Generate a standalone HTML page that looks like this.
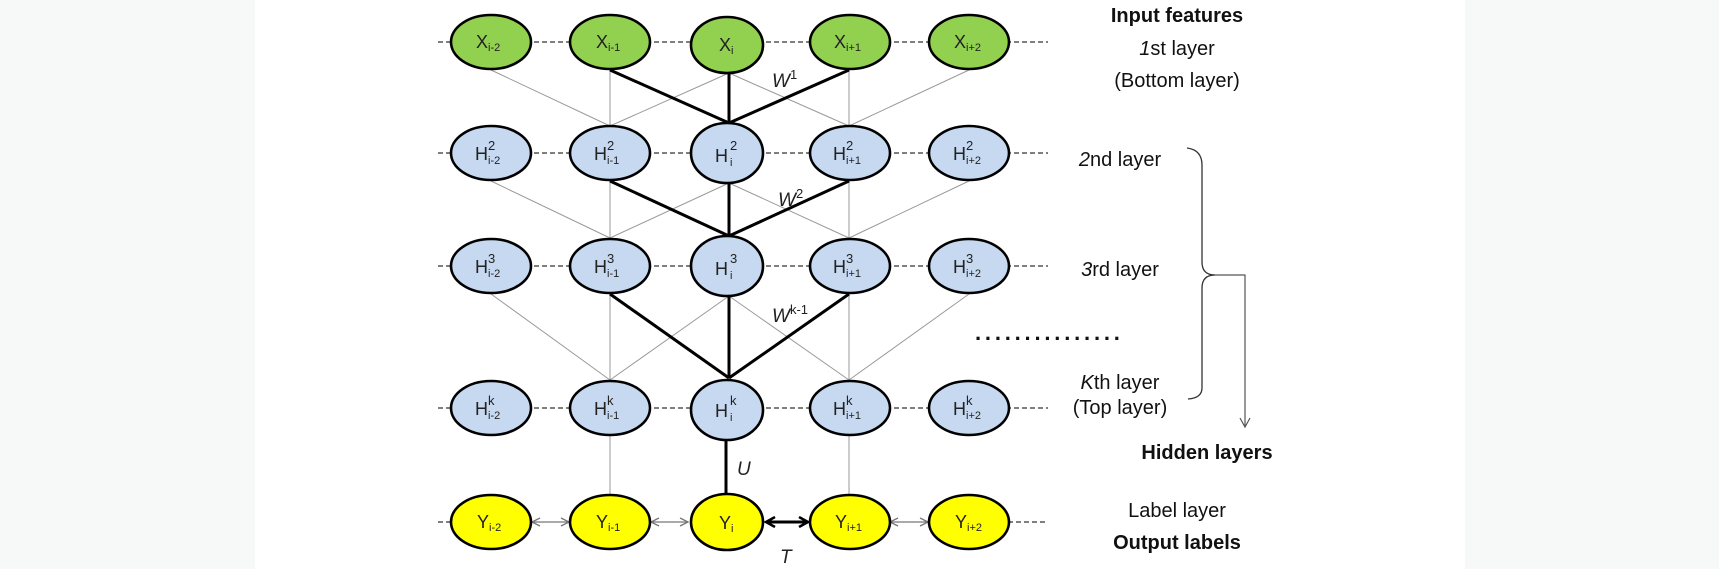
<!DOCTYPE html>
<html><head><meta charset="utf-8"><style>
html,body{margin:0;padding:0;background:#f7f9f9;}
svg{display:block;}
text{font-family:"Liberation Sans",sans-serif;}
</style></head><body>
<svg width="1719" height="569" viewBox="0 0 1719 569" xmlns="http://www.w3.org/2000/svg">
<defs>
<marker id="ag" markerWidth="10" markerHeight="10" refX="9" refY="5" orient="auto-start-reverse" markerUnits="userSpaceOnUse"><path d="M1,1 L9,5 L1,9" fill="none" stroke="#777" stroke-width="1.3"/></marker>
<marker id="ab" markerWidth="12" markerHeight="12" refX="10" refY="6" orient="auto-start-reverse" markerUnits="userSpaceOnUse"><path d="M1,1 L10,6 L1,11" fill="none" stroke="#000" stroke-width="2.5"/></marker>
<marker id="ad" markerWidth="12" markerHeight="12" refX="10" refY="6" orient="auto" markerUnits="userSpaceOnUse"><path d="M1,1 L10,6 L1,11" fill="none" stroke="#555" stroke-width="1.2"/></marker>
</defs>
<rect x="255" y="0" width="1210" height="569" fill="#fff"/>

<g stroke="#333" stroke-width="1.3" stroke-dasharray="5,3">
<line x1="438" y1="42" x2="1048" y2="42"/>
<line x1="438" y1="153" x2="1048" y2="153"/>
<line x1="438" y1="266" x2="1048" y2="266"/>
<line x1="438" y1="408" x2="1048" y2="408"/>
<line x1="438" y1="522" x2="452" y2="522"/>
<line x1="1008" y1="522" x2="1048" y2="522"/>
</g>

<g stroke="#999" stroke-width="1">
<line x1="491" y1="70" x2="610" y2="126"/>
<line x1="610" y1="70" x2="610" y2="126"/>
<line x1="729" y1="73" x2="610" y2="126"/>
<line x1="729" y1="73" x2="849" y2="126"/>
<line x1="849" y1="70" x2="849" y2="126"/>
<line x1="969" y1="70" x2="849" y2="126"/>
<line x1="491" y1="181" x2="610" y2="238"/>
<line x1="610" y1="181" x2="610" y2="238"/>
<line x1="729" y1="183" x2="610" y2="238"/>
<line x1="729" y1="183" x2="849" y2="238"/>
<line x1="849" y1="181" x2="849" y2="238"/>
<line x1="969" y1="181" x2="849" y2="238"/>
<line x1="491" y1="294" x2="610" y2="380"/>
<line x1="610" y1="294" x2="610" y2="380"/>
<line x1="729" y1="296" x2="610" y2="380"/>
<line x1="729" y1="296" x2="849" y2="380"/>
<line x1="849" y1="294" x2="849" y2="380"/>
<line x1="969" y1="294" x2="849" y2="380"/>
<line x1="610" y1="436" x2="610" y2="494"/>
<line x1="849" y1="436" x2="849" y2="494"/>
</g>

<g stroke="#000" stroke-width="3">
<line x1="610" y1="70" x2="729" y2="123"/>
<line x1="729" y1="73" x2="729" y2="123"/>
<line x1="849" y1="70" x2="729" y2="123"/>
<line x1="610" y1="181" x2="729" y2="236"/>
<line x1="729" y1="183" x2="729" y2="236"/>
<line x1="849" y1="181" x2="729" y2="236"/>
<line x1="610" y1="294" x2="729" y2="378"/>
<line x1="729" y1="296" x2="729" y2="378"/>
<line x1="849" y1="294" x2="729" y2="378"/>
<line x1="726" y1="438" x2="726" y2="494"/>
</g>

<g stroke="#777" stroke-width="1.3">
<line x1="532" y1="522" x2="569" y2="522" marker-start="url(#ag)" marker-end="url(#ag)"/>
<line x1="651" y1="522" x2="688" y2="522" marker-start="url(#ag)" marker-end="url(#ag)"/>
<line x1="890" y1="522" x2="928" y2="522" marker-start="url(#ag)" marker-end="url(#ag)"/>
</g>
<line x1="766" y1="522" x2="808" y2="522" stroke="#000" stroke-width="3" marker-start="url(#ab)" marker-end="url(#ab)"/>

<g stroke="#000" stroke-width="2.6">
<ellipse cx="491" cy="42" rx="40" ry="27" fill="#92d050"/>
<ellipse cx="610" cy="42" rx="40" ry="27" fill="#92d050"/>
<ellipse cx="727" cy="45" rx="36" ry="28" fill="#92d050"/>
<ellipse cx="850" cy="42" rx="40" ry="27" fill="#92d050"/>
<ellipse cx="969" cy="42" rx="40" ry="27" fill="#92d050"/>

<ellipse cx="491" cy="153" rx="40" ry="27" fill="#c6d9f1"/>
<ellipse cx="610" cy="153" rx="40" ry="27" fill="#c6d9f1"/>
<ellipse cx="727" cy="153" rx="36" ry="30" fill="#c6d9f1"/>
<ellipse cx="850" cy="153" rx="40" ry="27" fill="#c6d9f1"/>
<ellipse cx="969" cy="153" rx="40" ry="27" fill="#c6d9f1"/>

<ellipse cx="491" cy="266" rx="40" ry="27" fill="#c6d9f1"/>
<ellipse cx="610" cy="266" rx="40" ry="27" fill="#c6d9f1"/>
<ellipse cx="727" cy="266" rx="36" ry="30" fill="#c6d9f1"/>
<ellipse cx="850" cy="266" rx="40" ry="27" fill="#c6d9f1"/>
<ellipse cx="969" cy="266" rx="40" ry="27" fill="#c6d9f1"/>

<ellipse cx="491" cy="408" rx="40" ry="27" fill="#c6d9f1"/>
<ellipse cx="610" cy="408" rx="40" ry="27" fill="#c6d9f1"/>
<ellipse cx="727" cy="410" rx="36" ry="30" fill="#c6d9f1"/>
<ellipse cx="850" cy="408" rx="40" ry="27" fill="#c6d9f1"/>
<ellipse cx="969" cy="408" rx="40" ry="27" fill="#c6d9f1"/>

<ellipse cx="491" cy="522" rx="40" ry="27" fill="#ffff00"/>
<ellipse cx="610" cy="522" rx="40" ry="27" fill="#ffff00"/>
<ellipse cx="727" cy="522" rx="36" ry="28" fill="#ffff00"/>
<ellipse cx="850" cy="522" rx="40" ry="27" fill="#ffff00"/>
<ellipse cx="969" cy="522" rx="40" ry="27" fill="#ffff00"/>
</g>

<g font-size="18" fill="#222">
<text x="476" y="48">X<tspan font-size="11" dy="3">i-2</tspan></text>
<text x="596" y="48">X<tspan font-size="11" dy="3">i-1</tspan></text>
<text x="719" y="51">X<tspan font-size="11" dy="3">i</tspan></text>
<text x="834" y="48">X<tspan font-size="11" dy="3">i+1</tspan></text>
<text x="954" y="48">X<tspan font-size="11" dy="3">i+2</tspan></text>

<text x="475" y="160">H</text><text x="488" y="150" font-size="13">2</text><text x="488" y="164" font-size="11">i-2</text>
<text x="594" y="160">H</text><text x="607" y="150" font-size="13">2</text><text x="607" y="164" font-size="11">i-1</text>
<text x="715" y="162">H</text><text x="730" y="150" font-size="13">2</text><text x="730" y="166" font-size="11">i</text>
<text x="833" y="160">H</text><text x="846" y="150" font-size="13">2</text><text x="846" y="164" font-size="11">i+1</text>
<text x="953" y="160">H</text><text x="966" y="150" font-size="13">2</text><text x="966" y="164" font-size="11">i+2</text>

<text x="475" y="273">H</text><text x="488" y="263" font-size="13">3</text><text x="488" y="277" font-size="11">i-2</text>
<text x="594" y="273">H</text><text x="607" y="263" font-size="13">3</text><text x="607" y="277" font-size="11">i-1</text>
<text x="715" y="275">H</text><text x="730" y="263" font-size="13">3</text><text x="730" y="279" font-size="11">i</text>
<text x="833" y="273">H</text><text x="846" y="263" font-size="13">3</text><text x="846" y="277" font-size="11">i+1</text>
<text x="953" y="273">H</text><text x="966" y="263" font-size="13">3</text><text x="966" y="277" font-size="11">i+2</text>

<text x="475" y="415">H</text><text x="488" y="405" font-size="13">k</text><text x="488" y="419" font-size="11">i-2</text>
<text x="594" y="415">H</text><text x="607" y="405" font-size="13">k</text><text x="607" y="419" font-size="11">i-1</text>
<text x="715" y="417">H</text><text x="730" y="405" font-size="13">k</text><text x="730" y="421" font-size="11">i</text>
<text x="833" y="415">H</text><text x="846" y="405" font-size="13">k</text><text x="846" y="419" font-size="11">i+1</text>
<text x="953" y="415">H</text><text x="966" y="405" font-size="13">k</text><text x="966" y="419" font-size="11">i+2</text>

<text x="477" y="528">Y<tspan font-size="11" dy="3">i-2</tspan></text>
<text x="596" y="528">Y<tspan font-size="11" dy="3">i-1</tspan></text>
<text x="719" y="529">Y<tspan font-size="11" dy="3">i</tspan></text>
<text x="835" y="528">Y<tspan font-size="11" dy="3">i+1</tspan></text>
<text x="955" y="528">Y<tspan font-size="11" dy="3">i+2</tspan></text>
</g>

<g font-size="19" fill="#222" font-style="italic">
<text x="772" y="87">W<tspan font-size="13" dy="-8" font-style="normal">1</tspan></text>
<text x="778" y="206">W<tspan font-size="13" dy="-8" font-style="normal">2</tspan></text>
<text x="772" y="322">W<tspan font-size="13" dy="-8" font-style="normal">k-1</tspan></text>
<text x="737" y="475">U</text>
<text x="780" y="563">T</text>
</g>

<g fill="#111" font-size="20" text-anchor="middle">
<text x="1177" y="22" font-weight="bold">Input features</text>
<text x="1177" y="55"><tspan font-style="italic">1</tspan>st layer</text>
<text x="1177" y="87">(Bottom layer)</text>
<text x="1120" y="166"><tspan font-style="italic">2</tspan>nd layer</text>
<text x="1120" y="276"><tspan font-style="italic">3</tspan>rd layer</text>
<text x="1120" y="389"><tspan font-style="italic">K</tspan>th layer</text>
<text x="1120" y="414">(Top layer)</text>
<text x="1207" y="459" font-weight="bold">Hidden layers</text>
<text x="1177" y="517">Label layer</text>
<text x="1177" y="549" font-weight="bold">Output labels</text>
</g>
<text x="975" y="340" font-size="22" font-weight="bold" fill="#111" letter-spacing="3.8">...............</text>

<path d="M1187,148 Q1202,150 1202,165 L1202,262 Q1202,275 1215,275 Q1202,275 1202,288 L1202,388 Q1202,398 1188,399" fill="none" stroke="#333" stroke-width="1.3"/>
<path d="M1215,275 L1245,275 L1245,427" fill="none" stroke="#555" stroke-width="1.2" marker-end="url(#ad)"/>
</svg>
</body></html>
